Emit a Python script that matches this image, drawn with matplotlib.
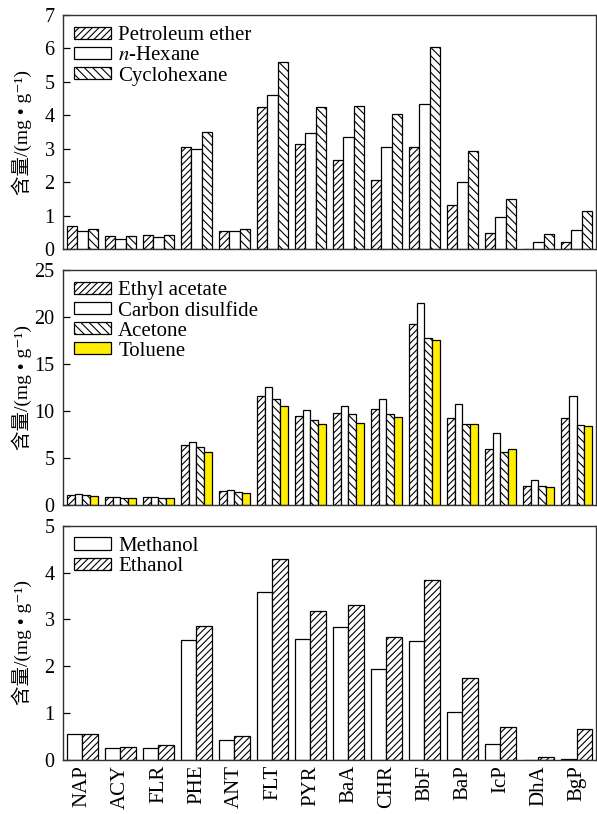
import numpy as np
import matplotlib
matplotlib.use("Agg")
import matplotlib.pyplot as plt

plt.rcParams['font.family'] = ['Liberation Serif', 'DejaVu Serif', 'Noto Sans CJK SC']
plt.rcParams['mathtext.fontset'] = 'stix'
plt.rcParams['hatch.linewidth'] = 0.8

pahs = ["NAP", "ACY", "FLR", "PHE", "ANT", "FLT", "PYR", "BaA", "CHR", "BbF", "BaP", "IcP", "DhA", "BgP"]

# panel 1
petroleum_ether = [0.71, 0.40, 0.43, 3.06, 0.56, 4.26, 3.16, 2.66, 2.06, 3.06, 1.31, 0.48, 0.0, 0.22]
n_hexane = [0.55, 0.32, 0.36, 3.01, 0.55, 4.60, 3.46, 3.35, 3.05, 4.33, 2.00, 0.96, 0.22, 0.57]
cyclohexane = [0.61, 0.40, 0.43, 3.49, 0.62, 5.59, 4.26, 4.27, 4.04, 6.03, 2.93, 1.51, 0.47, 1.14]

# panel 2
ethyl_acetate = [1.12, 0.94, 0.90, 6.42, 1.54, 11.62, 9.52, 9.77, 10.20, 19.28, 9.31, 6.00, 2.08, 9.24]
carbon_disulfide = [1.19, 0.94, 0.94, 6.74, 1.65, 12.59, 10.09, 10.56, 11.27, 21.49, 10.73, 7.71, 2.69, 11.62]
acetone = [1.12, 0.79, 0.79, 6.17, 1.44, 11.27, 9.10, 9.70, 9.70, 17.79, 8.67, 5.71, 2.04, 8.56]
toluene = [0.97, 0.79, 0.79, 5.68, 1.29, 10.52, 8.63, 8.81, 9.38, 17.61, 8.67, 6.00, 1.93, 8.49]

# panel 3
methanol = [0.55, 0.25, 0.25, 2.57, 0.42, 3.59, 2.59, 2.83, 1.94, 2.53, 1.02, 0.35, 0.0, 0.02]
ethanol = [0.55, 0.28, 0.33, 2.87, 0.52, 4.28, 3.19, 3.30, 2.63, 3.84, 1.76, 0.70, 0.07, 0.66]

ylabel = "含量/(mg • g⁻¹)"

panels = [
    ([("Petroleum ether", petroleum_ether, "white", "/////"),
      ("$n$-Hexane", n_hexane, "white", ""),
      ("Cyclohexane", cyclohexane, "white", "\\\\\\\\")], 7, 1),
    ([("Ethyl acetate", ethyl_acetate, "white", "/////"),
      ("Carbon disulfide", carbon_disulfide, "white", ""),
      ("Acetone", acetone, "white", "\\\\\\\\"),
      ("Toluene", toluene, "#FFEE00", "")], 25, 5),
    ([("Methanol", methanol, "white", ""),
      ("Ethanol", ethanol, "white", "/////")], 5, 1),
]

fig = plt.figure(figsize=(5.97, 8.14), dpi=100)
boxes = [(0.6937, 0.9816), (0.3790, 0.6683), (0.0663, 0.3542)]
x = np.arange(len(pahs))
group = 0.81

for k, (series, ymax, step) in enumerate(panels):
    b0, b1 = boxes[k]
    ax = fig.add_axes([0.1055, b0, 0.9975 - 0.1055, b1 - b0])
    n = len(series)
    w = group / n
    for i, (name, vals, col, hat) in enumerate(series):
        ax.bar(x - group / 2 + w * (i + 0.5), vals, w, color=col, edgecolor="black",
               linewidth=0.9, hatch=hat, label=name)
    ax.set_xlim(-0.51, 13.5)
    ax.set_ylim(0, ymax)
    ax.set_yticks(np.arange(0, ymax + 0.1, step))
    ax.tick_params(axis="y", direction="in", length=5, width=0.9, labelsize=14.5, pad=6)
    ax.tick_params(axis="x", length=0)
    for s in ax.spines.values():
        s.set_linewidth(1.0)
        s.set_color("#333333")
    if k == 2:
        ax.set_xticks(x)
        ax.set_xticklabels(pahs, rotation=90, fontsize=15)
    else:
        ax.set_xticks([])
    ax.set_ylabel(ylabel, fontsize=14)
    ax.yaxis.set_label_coords(-0.058, 0.5)
    ax.legend(loc="upper left", frameon=False, fontsize=15, handlelength=1.75,
              handleheight=0.55, handletextpad=0.35, labelspacing=0.05,
              borderaxespad=0.3, borderpad=0.25)

fig.savefig("out.png", dpi=100)
